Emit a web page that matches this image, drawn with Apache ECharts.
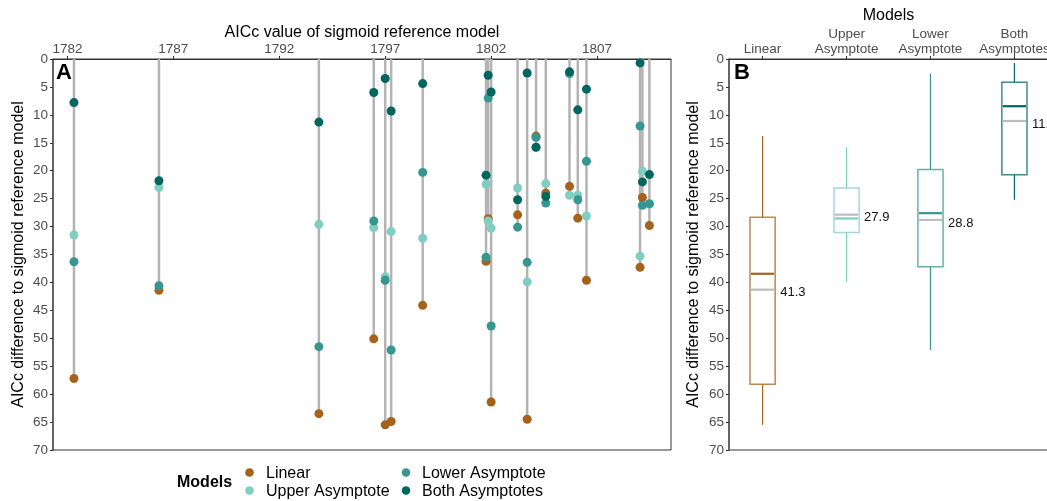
<!DOCTYPE html>
<html>
<head>
<meta charset="utf-8">
<script src="https://cdn.jsdelivr.net/npm/echarts@6/dist/echarts.min.js"></script>
<style>
html,body{margin:0;padding:0;background:#fff;}
#chart{width:1047px;height:501px;}
</style>
</head>
<body>
<div id="chart"></div>
<script>
// ---------- DATA ----------
const modelNames = ['Linear', 'Upper Asymptote', 'Lower Asymptote', 'Both Asymptotes'];
const modelAxisLabels = ['Linear', 'Upper\nAsymptote', 'Lower\nAsymptote', 'Both\nAsymptotes'];
const modelColors = ['#a6611a', '#80cdc1', '#35978f', '#01665e'];
const xTitleA = 'AICc value of sigmoid reference model';
const yTitle = 'AICc difference to sigmoid reference model';
const xTitleB = 'Models';
// AICc of sigmoid reference model per site (x of panel A)
const siteAICc = [1782.31, 1786.32, 1793.87, 1796.46, 1797.00, 1797.28, 1798.77, 1801.76, 1801.86, 1802.00,
                  1803.25, 1803.70, 1804.12, 1804.58, 1805.70, 1806.09, 1806.50, 1809.03, 1809.14, 1809.47];
// AICc difference to sigmoid reference model per model
const diffLinear = [57.2, 41.4, 63.5, 50.1, 65.5, 64.9, 44.1, 36.2, 28.6, 61.4,
                    27.9, 64.5, 13.8, 24.0, 22.8, 28.5, 39.6, 37.3, 24.8, 29.8];
const diffUpper  = [31.5, 23.0, 29.6, 30.2, 39.0, 30.9, 32.1, 22.4, 29.0, 30.3,
                    23.1, 39.9, 15.8, 22.3, 24.4, 24.4, 28.1, 35.3, 20.1, 26.0];
const diffLower  = [36.3, 40.6, 51.5, 29.0, 39.6, 52.1, 20.3, 35.5, 7.0, 47.8,
                    30.1, 36.4, 14.0, 25.8, 2.6, 25.2, 18.3, 12.0, 26.2, 25.9];
const diffBoth   = [7.8, 21.8, 11.3, 6.0, 3.5, 9.3, 4.4, 20.8, 2.9, 5.9,
                    25.2, 2.5, 15.8, 24.6, 2.3, 9.1, 5.4, 0.7, 22.0, 20.7];
const xTicks = [1782, 1787, 1792, 1797, 1802, 1807];

// ---------- helpers ----------
const allDiffs = [diffLinear, diffUpper, diffLower, diffBoth];
function quantile(sorted, p) {
  const h = (sorted.length - 1) * p;
  const lo = Math.floor(h), hi = Math.ceil(h);
  return sorted[lo] + (h - lo) * (sorted[hi] - sorted[lo]);
}
function boxStats(arr) {
  const s = arr.slice().sort((a, b) => a - b);
  const q1 = quantile(s, 0.25), med = quantile(s, 0.5), q3 = quantile(s, 0.75);
  const iqr = q3 - q1;
  const lo = s.filter(v => v >= q1 - 1.5 * iqr)[0];
  const hiArr = s.filter(v => v <= q3 + 1.5 * iqr);
  const hi = hiArr[hiArr.length - 1];
  const mean = arr.reduce((a, b) => a + b, 0) / arr.length;
  return [lo, q1, med, q3, hi, mean];
}
const boxData = allDiffs.map((arr, i) => [i + 1].concat(boxStats(arr)));
const lineData = siteAICc.map((x, i) => [x, Math.max(diffLinear[i], diffUpper[i], diffLower[i], diffBoth[i])]);

const FONT = '"Liberation Sans", Arial, sans-serif';
const tickLabel = {fontFamily: FONT, fontSize: 13.5, color: '#4d4d4d'};

function hexA(hex, a) {
  const r = parseInt(hex.slice(1, 3), 16), g = parseInt(hex.slice(3, 5), 16), b = parseInt(hex.slice(5, 7), 16);
  return 'rgba(' + r + ',' + g + ',' + b + ',' + a + ')';
}

const chart = echarts.init(document.getElementById('chart'), null, {renderer: 'canvas'});

const scatterSeries = allDiffs.map((arr, k) => ({
  type: 'scatter', name: modelNames[k], xAxisIndex: 0, yAxisIndex: 0,
  symbol: 'circle', symbolSize: 9,
  itemStyle: {color: modelColors[k], opacity: 1},
  z: 3 + k,
  data: arr.map((v, i) => [siteAICc[i], v])
}));

function yAxisCfg(idx) {
  return {type: 'value', gridIndex: idx, inverse: true, min: 0, max: 70, interval: 5,
    axisLine: {show: true, lineStyle: {color: '#555', width: 1.5}},
    axisTick: {show: true, length: 3, lineStyle: {color: '#333'}},
    axisLabel: Object.assign({margin: 5}, tickLabel),
    splitLine: {show: false}};
}

const option = {
  animation: false,
  backgroundColor: '#fff',
  grid: [
    {left: 53, top: 59, width: 618, height: 391, show: true, borderColor: '#333', borderWidth: 1,
     backgroundColor: 'transparent', outerBoundsMode: 'none', containLabel: false},
    {left: 729, top: 59, width: 319, height: 391, show: true, borderColor: '#333', borderWidth: 1,
     backgroundColor: 'transparent', outerBoundsMode: 'none', containLabel: false}
  ],
  xAxis: [
    {type: 'value', gridIndex: 0, position: 'top', min: 1781.32, max: 1810.49,
     axisLine: {show: true, lineStyle: {color: '#333', width: 1}},
     axisTick: {show: true, length: 3, lineStyle: {color: '#333'}, customValues: xTicks},
     axisLabel: Object.assign({margin: 3, customValues: xTicks, formatter: v => String(v)}, tickLabel),
     splitLine: {show: false}},
    {type: 'value', gridIndex: 1, position: 'top', min: 0.6, max: 4.4,
     axisLine: {show: true, lineStyle: {color: '#333', width: 1}},
     axisTick: {show: true, length: 3, lineStyle: {color: '#333'}, customValues: [1, 2, 3, 4]},
     axisLabel: Object.assign({margin: 2, lineHeight: 15, customValues: [1, 2, 3, 4],
       formatter: v => modelAxisLabels[Math.round(v) - 1] || ''}, tickLabel),
     splitLine: {show: false}}
  ],
  yAxis: [yAxisCfg(0), yAxisCfg(1)],
  graphic: [
    {type: 'text', x: 362, y: 33, style: {text: xTitleA, font: '16px ' + FONT, fill: '#000', align: 'center', verticalAlign: 'middle'}},
    {type: 'text', x: 888.5, y: 16, style: {text: xTitleB, font: '16px ' + FONT, fill: '#000', align: 'center', verticalAlign: 'middle'}},
    {type: 'text', x: 19, y: 254.5, rotation: Math.PI / 2, style: {text: yTitle, font: '16px ' + FONT, fill: '#000', align: 'center', verticalAlign: 'middle'}},
    {type: 'text', x: 694, y: 254.5, rotation: Math.PI / 2, style: {text: yTitle, font: '16px ' + FONT, fill: '#000', align: 'center', verticalAlign: 'middle'}},
    {type: 'text', left: 56, top: 62, style: {text: 'A', font: 'bold 22px ' + FONT, fill: '#000'}},
    {type: 'text', left: 734, top: 62, style: {text: 'B', font: 'bold 22px ' + FONT, fill: '#000'}},
    {type: 'text', left: 177, top: 475, style: {text: 'Models', font: 'bold 16px ' + FONT, fill: '#000'}},
    {type: 'circle', shape: {cx: 249.5, cy: 472.5, r: 4.3}, style: {fill: modelColors[0]}},
    {type: 'circle', shape: {cx: 249.5, cy: 490.5, r: 4.3}, style: {fill: modelColors[1]}},
    {type: 'circle', shape: {cx: 406, cy: 472.5, r: 4.3}, style: {fill: modelColors[2]}},
    {type: 'circle', shape: {cx: 406, cy: 490.5, r: 4.3}, style: {fill: modelColors[3]}},
    {type: 'text', left: 266, top: 466, style: {text: modelNames[0], font: '16px ' + FONT, fill: '#000'}},
    {type: 'text', left: 266, top: 484, style: {text: modelNames[1], font: '16px ' + FONT, fill: '#000'}},
    {type: 'text', left: 422, top: 466, style: {text: modelNames[2], font: '16px ' + FONT, fill: '#000'}},
    {type: 'text', left: 422, top: 484, style: {text: modelNames[3], font: '16px ' + FONT, fill: '#000'}}
  ],
  series: [
    {type: 'custom', xAxisIndex: 0, yAxisIndex: 0, z: 2, data: lineData,
     renderItem: function (params, api) {
       const p0 = api.coord([api.value(0), 0]);
       const p1 = api.coord([api.value(0), api.value(1)]);
       return {type: 'line', shape: {x1: p0[0], y1: p0[1], x2: p1[0], y2: p1[1]},
               style: {stroke: '#b3b3b3', lineWidth: 2.5}};
     }}
  ].concat(scatterSeries).concat([
    {type: 'custom', xAxisIndex: 1, yAxisIndex: 1, z: 5, data: boxData,
     renderItem: function (params, api) {
       const i = params.dataIndex;
       const col = modelColors[i];
       const x = api.value(0);
       const lo = api.value(1), q1 = api.value(2), med = api.value(3), q3 = api.value(4), hi = api.value(5), mean = api.value(6);
       const hw = 0.15;
       const c = (a, b) => api.coord([a, b]);
       const pLo = c(x, lo), pQ1 = c(x, q1), pQ3 = c(x, q3), pHi = c(x, hi);
       const bl = c(x - hw, q1), br = c(x + hw, q3);
       const mL = c(x - hw, med), mR = c(x + hw, med);
       const aL = c(x - hw, mean), aR = c(x + hw, mean);
       return {type: 'group', children: [
         {type: 'line', shape: {x1: pLo[0], y1: pLo[1], x2: pQ1[0], y2: pQ1[1]}, style: {stroke: col, lineWidth: 1.2}},
         {type: 'line', shape: {x1: pQ3[0], y1: pQ3[1], x2: pHi[0], y2: pHi[1]}, style: {stroke: col, lineWidth: 1.2}},
         {type: 'rect', shape: {x: bl[0], y: bl[1], width: br[0] - bl[0], height: br[1] - bl[1]},
          style: {fill: '#fff', stroke: hexA(col, 0.75), lineWidth: 1.5}},
         {type: 'line', shape: {x1: mL[0] + 1, y1: mL[1], x2: mR[0] - 1, y2: mR[1]}, style: {stroke: col, lineWidth: 2.2}},
         {type: 'line', shape: {x1: aL[0] + 1, y1: aL[1], x2: aR[0] - 1, y2: aR[1]}, style: {stroke: '#bdbdbd', lineWidth: 2.2}},
         {type: 'text', x: aR[0] + 5, y: aR[1] + 3,
          style: {text: mean.toFixed(1), font: '13px ' + FONT, fill: '#111', verticalAlign: 'middle', align: 'left'}}
       ]};
     }}
  ])
};
chart.setOption(option);
</script>
</body>
</html>
